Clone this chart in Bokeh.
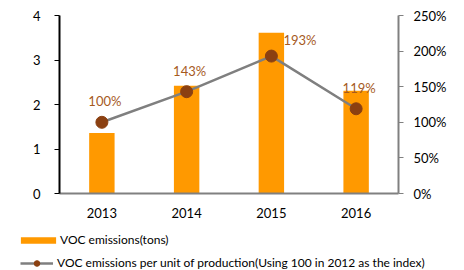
from bokeh.plotting import figure
from bokeh.layouts import column
from bokeh.models import (FactorRange, Range1d, LinearAxis, FixedTicker, ColumnDataSource,
                          LabelSet, Legend, LegendItem, CustomJSTickFormatter)
from bokeh.core.properties import value
from bokeh.embed import file_html
from bokeh.resources import INLINE

years = ["2013", "2014", "2015", "2016"]
emissions = [1.36, 2.42, 3.61, 2.31]
index_pct = [100, 143, 193, 119]
left_ticks = [0, 1, 2, 3, 4]
right_ticks = [0, 50, 100, 150, 200, 250]
bar_name = "VOC emissions(tons)"
line_name = "VOC emissions per unit of production(Using 100 in 2012 as the index)"

FONT = "Lato"
BAR = "#FF9900"
DOT = "#8B4011"
LBL = "#A65A1E"
LINE = "#7F7F7F"

p = figure(width=464, height=228, x_range=FactorRange(*years, range_padding=0),
           y_range=Range1d(0, 4), output_backend="svg", toolbar_location=None,
           min_border_left=59, min_border_right=66, min_border_top=15, min_border_bottom=35)
p.frame_align = False
p.extra_y_ranges = {"pct": Range1d(0, 250)}
p.outline_line_color = None
p.xgrid.grid_line_color = None
p.ygrid.grid_line_color = None

src = ColumnDataSource(dict(x=years, y=emissions, v=index_pct))

p.vbar(x="x", top="y", width=0.3, source=src, fill_color=BAR, line_color=None)
p.line(x="x", y="v", source=src, y_range_name="pct", line_color=LINE, line_width=2.5)
p.scatter(x="x", y="v", source=src, y_range_name="pct", size=12, fill_color=DOT, line_color=DOT)

# data labels
idx_above = [0, 1, 3]
idx_right = [2]
above = ColumnDataSource(dict(x=[years[i] for i in idx_above],
                              v=[index_pct[i] for i in idx_above],
                              t=[f"{index_pct[i]}%" for i in idx_above]))
right = ColumnDataSource(dict(x=[years[i] for i in idx_right],
                              v=[index_pct[i] for i in idx_right],
                              t=[f"{index_pct[i]}%" for i in idx_right]))
p.add_layout(LabelSet(x="x", y="v", text="t", source=above, y_range_name="pct",
                      x_offset=3, y_offset=13, text_align="center", text_baseline="bottom",
                      text_font=value(FONT), text_font_size="13px", text_color=LBL))
p.add_layout(LabelSet(x="x", y="v", text="t", source=right, y_range_name="pct",
                      x_offset=12, y_offset=8, text_align="left", text_baseline="bottom",
                      text_font=value(FONT), text_font_size="13px", text_color=LBL))

# axes
xa = p.xaxis[0]
xa.axis_line_color = "#808080"
xa.axis_line_width = 2
xa.major_tick_out = 0
xa.major_tick_in = 0
xa.minor_tick_out = 0
xa.major_label_standoff = 14
xa.major_label_text_font = FONT
xa.major_label_text_font_size = "13px"
xa.major_label_text_color = "black"

ya = p.yaxis[0]
ya.ticker = FixedTicker(ticks=left_ticks)
ya.axis_line_color = "black"
ya.axis_line_width = 2
ya.major_tick_line_color = "black"
ya.major_tick_out = 5
ya.major_tick_in = 0
ya.minor_tick_out = 0
ya.minor_tick_in = 0
ya.major_label_standoff = 14
ya.major_label_text_font = FONT
ya.major_label_text_font_size = "13px"
ya.major_label_text_color = "black"

ra = LinearAxis(y_range_name="pct", ticker=FixedTicker(ticks=right_ticks),
                formatter=CustomJSTickFormatter(code="return tick + '%'"))
ra.axis_line_color = "#808080"
ra.axis_line_width = 2
ra.major_tick_line_color = "#808080"
ra.major_tick_out = 5
ra.major_tick_in = 0
ra.minor_tick_out = 0
ra.minor_tick_in = 0
ra.major_label_standoff = 10
ra.major_label_text_font = FONT
ra.major_label_text_font_size = "13px"
ra.major_label_text_color = "black"
p.add_layout(ra, "right")

# legend strip (separate figure, same data kept outside its visible range)
lg = figure(width=464, height=42, x_range=FactorRange(*years), y_range=Range1d(1000, 1001),
            output_backend="svg", toolbar_location=None, x_axis_type=None, y_axis_type=None,
            min_border=0, min_border_left=0, min_border_right=0, min_border_top=0,
            min_border_bottom=0)
lg.frame_align = False
lg.outline_line_color = None
lg.xgrid.grid_line_color = None
lg.ygrid.grid_line_color = None
lbars = lg.vbar(x="x", top="y", width=0.3, source=src, fill_color=BAR, line_color=None)
lln = lg.line(x="x", y="v", source=src, line_color=LINE, line_width=2.5)
ldots = lg.scatter(x="x", y="v", source=src, size=12, fill_color=DOT, line_color=DOT)

common = dict(padding=0, margin=0, border_line_color=None, background_fill_alpha=0,
              label_text_font=FONT, label_text_font_size="12px", label_text_color="black")
leg1 = Legend(items=[LegendItem(label=bar_name, renderers=[lbars])],
              location=(16, 23), glyph_width=44, glyph_height=8, label_height=8,
              label_standoff=-3, **common)
leg2 = Legend(items=[LegendItem(label=line_name, renderers=[lln, ldots])],
              location=(20, 0), glyph_width=33, glyph_height=14, label_height=14,
              label_standoff=4, **common)
lg.add_layout(leg1, "center")
lg.add_layout(leg2, "center")

open("out.html", "w").write(file_html(column(p, lg, spacing=0), INLINE))
